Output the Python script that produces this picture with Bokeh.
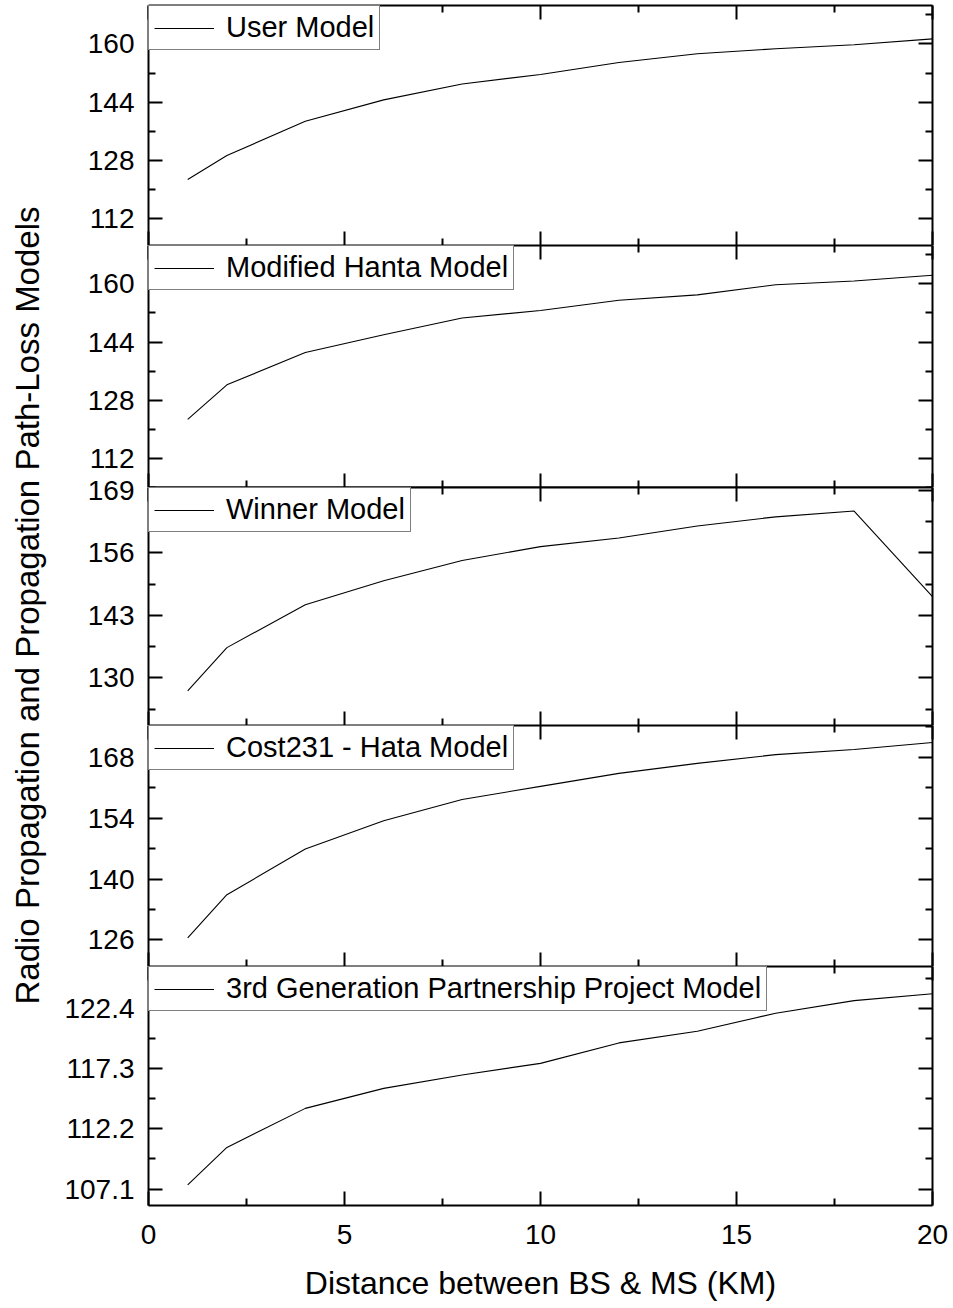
import math
from bokeh.plotting import figure
from bokeh.models import Range1d, LinearAxis, FixedTicker, NumeralTickFormatter, Label
from bokeh.layouts import row, column
from bokeh.embed import file_html
from bokeh.resources import INLINE

# ---------------- data ----------------
distance = [1, 2, 4, 6, 8, 10, 12, 14, 16, 18, 20]
user_model = [122.7, 129.3, 138.7, 144.6, 149.0, 151.6, 154.9, 157.3, 158.7, 159.8, 161.4]
hanta_model = [122.7, 132.2, 141.1, 146.0, 150.6, 152.7, 155.5, 157.0, 159.8, 160.8, 162.4]
winner_model = [127.3, 136.3, 145.2, 150.2, 154.4, 157.3, 159.1, 161.6, 163.5, 164.7, 146.9]
cost231_model = [126.5, 136.4, 146.9, 153.4, 158.3, 161.3, 164.3, 166.6, 168.6, 169.8, 171.4]
gpp_model = [107.46, 110.63, 113.95, 115.65, 116.79, 117.77, 119.51, 120.5, 122.03, 123.1, 123.68]

names = ["User Model", "Modified Hanta Model", "Winner Model",
         "Cost231 - Hata Model", "3rd Generation Partnership Project Model"]
series = [user_model, hanta_model, winner_model, cost231_model, gpp_model]
y_major = [[112, 128, 144, 160], [112, 128, 144, 160], [130, 143, 156, 169],
           [126, 140, 154, 168], [107.1, 112.2, 117.3, 122.4]]
y_minor = [[104, 120, 136, 152, 168], [104, 120, 136, 152, 168],
           [123.5, 136.5, 149.5, 162.5], [119, 133, 147, 161, 175],
           [104.55, 109.65, 114.75, 119.85, 124.95]]
y_limits = [(104.5, 170.6), (103.9, 170.6), (120.1, 169.6), (119.9, 175.3), (105.7, 126.0)]
y_formats = ["0", "0", "0", "0", "0.0"]
x_major = [0, 5, 10, 15, 20]
x_minor = [2.5, 7.5, 12.5, 17.5]
x_title = "Distance between BS & MS (KM)"
y_title = "Radio Propagation and Propagation Path-Loss Models"

# ---------------- layout / style ----------------
FONT = "Liberation Sans"
frame_heights = [240, 242, 238, 241, 239]
overlap_top = [0, 0, 16, 0, 0]   # extra room above a frame for a tick label at its top edge
FRAME_W = 784
LEFT = 88
RIGHT = 21


def style_axis(ax, show_labels):
    ax.axis_line_width = 2
    ax.axis_line_color = "black"
    ax.major_tick_in = 14
    ax.major_tick_out = 0
    ax.minor_tick_in = 7
    ax.minor_tick_out = 0
    ax.major_tick_line_width = 2
    ax.minor_tick_line_width = 2
    ax.major_tick_line_color = "black"
    ax.minor_tick_line_color = "black"
    if show_labels:
        ax.major_label_text_font = FONT
        ax.major_label_text_font_size = "28px"
        ax.major_label_text_color = "black"
        ax.major_label_standoff = 14
    else:
        ax.major_label_text_font_size = "0px"
        ax.major_label_text_color = None
        ax.major_label_standoff = 0


xr = Range1d(0, 20)
figs = []
n = len(series)
for i in range(n):
    last = i == n - 1
    top_border = 5 if i == 0 else overlap_top[i]
    p = figure(frame_width=FRAME_W, frame_height=frame_heights[i],
               x_range=xr, y_range=Range1d(*y_limits[i]),
               x_axis_type=None, y_axis_type=None,
               output_backend="svg", toolbar_location=None,
               min_border_left=LEFT, min_border_right=RIGHT,
               min_border_top=top_border,
               min_border_bottom=0)
    p.outline_line_color = None
    p.background_fill_color = "white"
    if overlap_top[i] > 0:
        p.border_fill_alpha = 0.0
        p.styles = {"margin-top": "-%dpx" % overlap_top[i]}
    else:
        p.border_fill_color = "white"

    yt = FixedTicker(ticks=y_major[i], minor_ticks=y_minor[i])
    xt = FixedTicker(ticks=x_major, minor_ticks=x_minor)

    left = LinearAxis(ticker=yt, formatter=NumeralTickFormatter(format=y_formats[i]))
    style_axis(left, True)
    p.add_layout(left, "left")

    right = LinearAxis(ticker=yt)
    style_axis(right, False)
    p.add_layout(right, "right")

    top = LinearAxis(ticker=xt)
    style_axis(top, False)
    p.add_layout(top, "above")

    bottom = LinearAxis(ticker=xt)
    if last:
        style_axis(bottom, True)
        bottom.major_label_standoff = 19
        bottom.axis_label = x_title
        bottom.axis_label_text_font = FONT
        bottom.axis_label_text_font_size = "32px"
        bottom.axis_label_text_font_style = "normal"
        bottom.axis_label_text_color = "black"
        bottom.axis_label_standoff = 18
    else:
        style_axis(bottom, False)
    p.add_layout(bottom, "below")

    p.line(distance, series[i], line_color="black", line_width=1.1, legend_label=names[i])

    lg = p.legend[0]
    lg.location = "top_left"
    lg.margin = 0
    lg.padding = 5
    lg.spacing = 0
    lg.glyph_width = 60
    lg.glyph_height = 20
    lg.label_standoff = 12
    lg.label_text_font = FONT
    lg.label_text_font_size = "29px"
    lg.label_text_color = "black"
    lg.border_line_color = "black"
    lg.border_line_width = 1
    lg.background_fill_color = "white"
    lg.background_fill_alpha = 1.0
    figs.append(p)

# y-axis title column
TOTAL_H = 1308
lab = figure(width=60, height=TOTAL_H, x_range=Range1d(0, 60), y_range=Range1d(TOTAL_H, 0),
             x_axis_type=None, y_axis_type=None, output_backend="svg",
             toolbar_location=None, min_border=0)
lab.outline_line_color = None
lab.add_layout(Label(x=27, y=605, text=y_title, angle=math.pi / 2,
                     text_align="center", text_baseline="alphabetic",
                     text_font=FONT, text_font_size="33px", text_color="black"))

layout = row(lab, column(*figs, spacing=0), spacing=0)
open("out.html", "w").write(file_html(layout, INLINE))
